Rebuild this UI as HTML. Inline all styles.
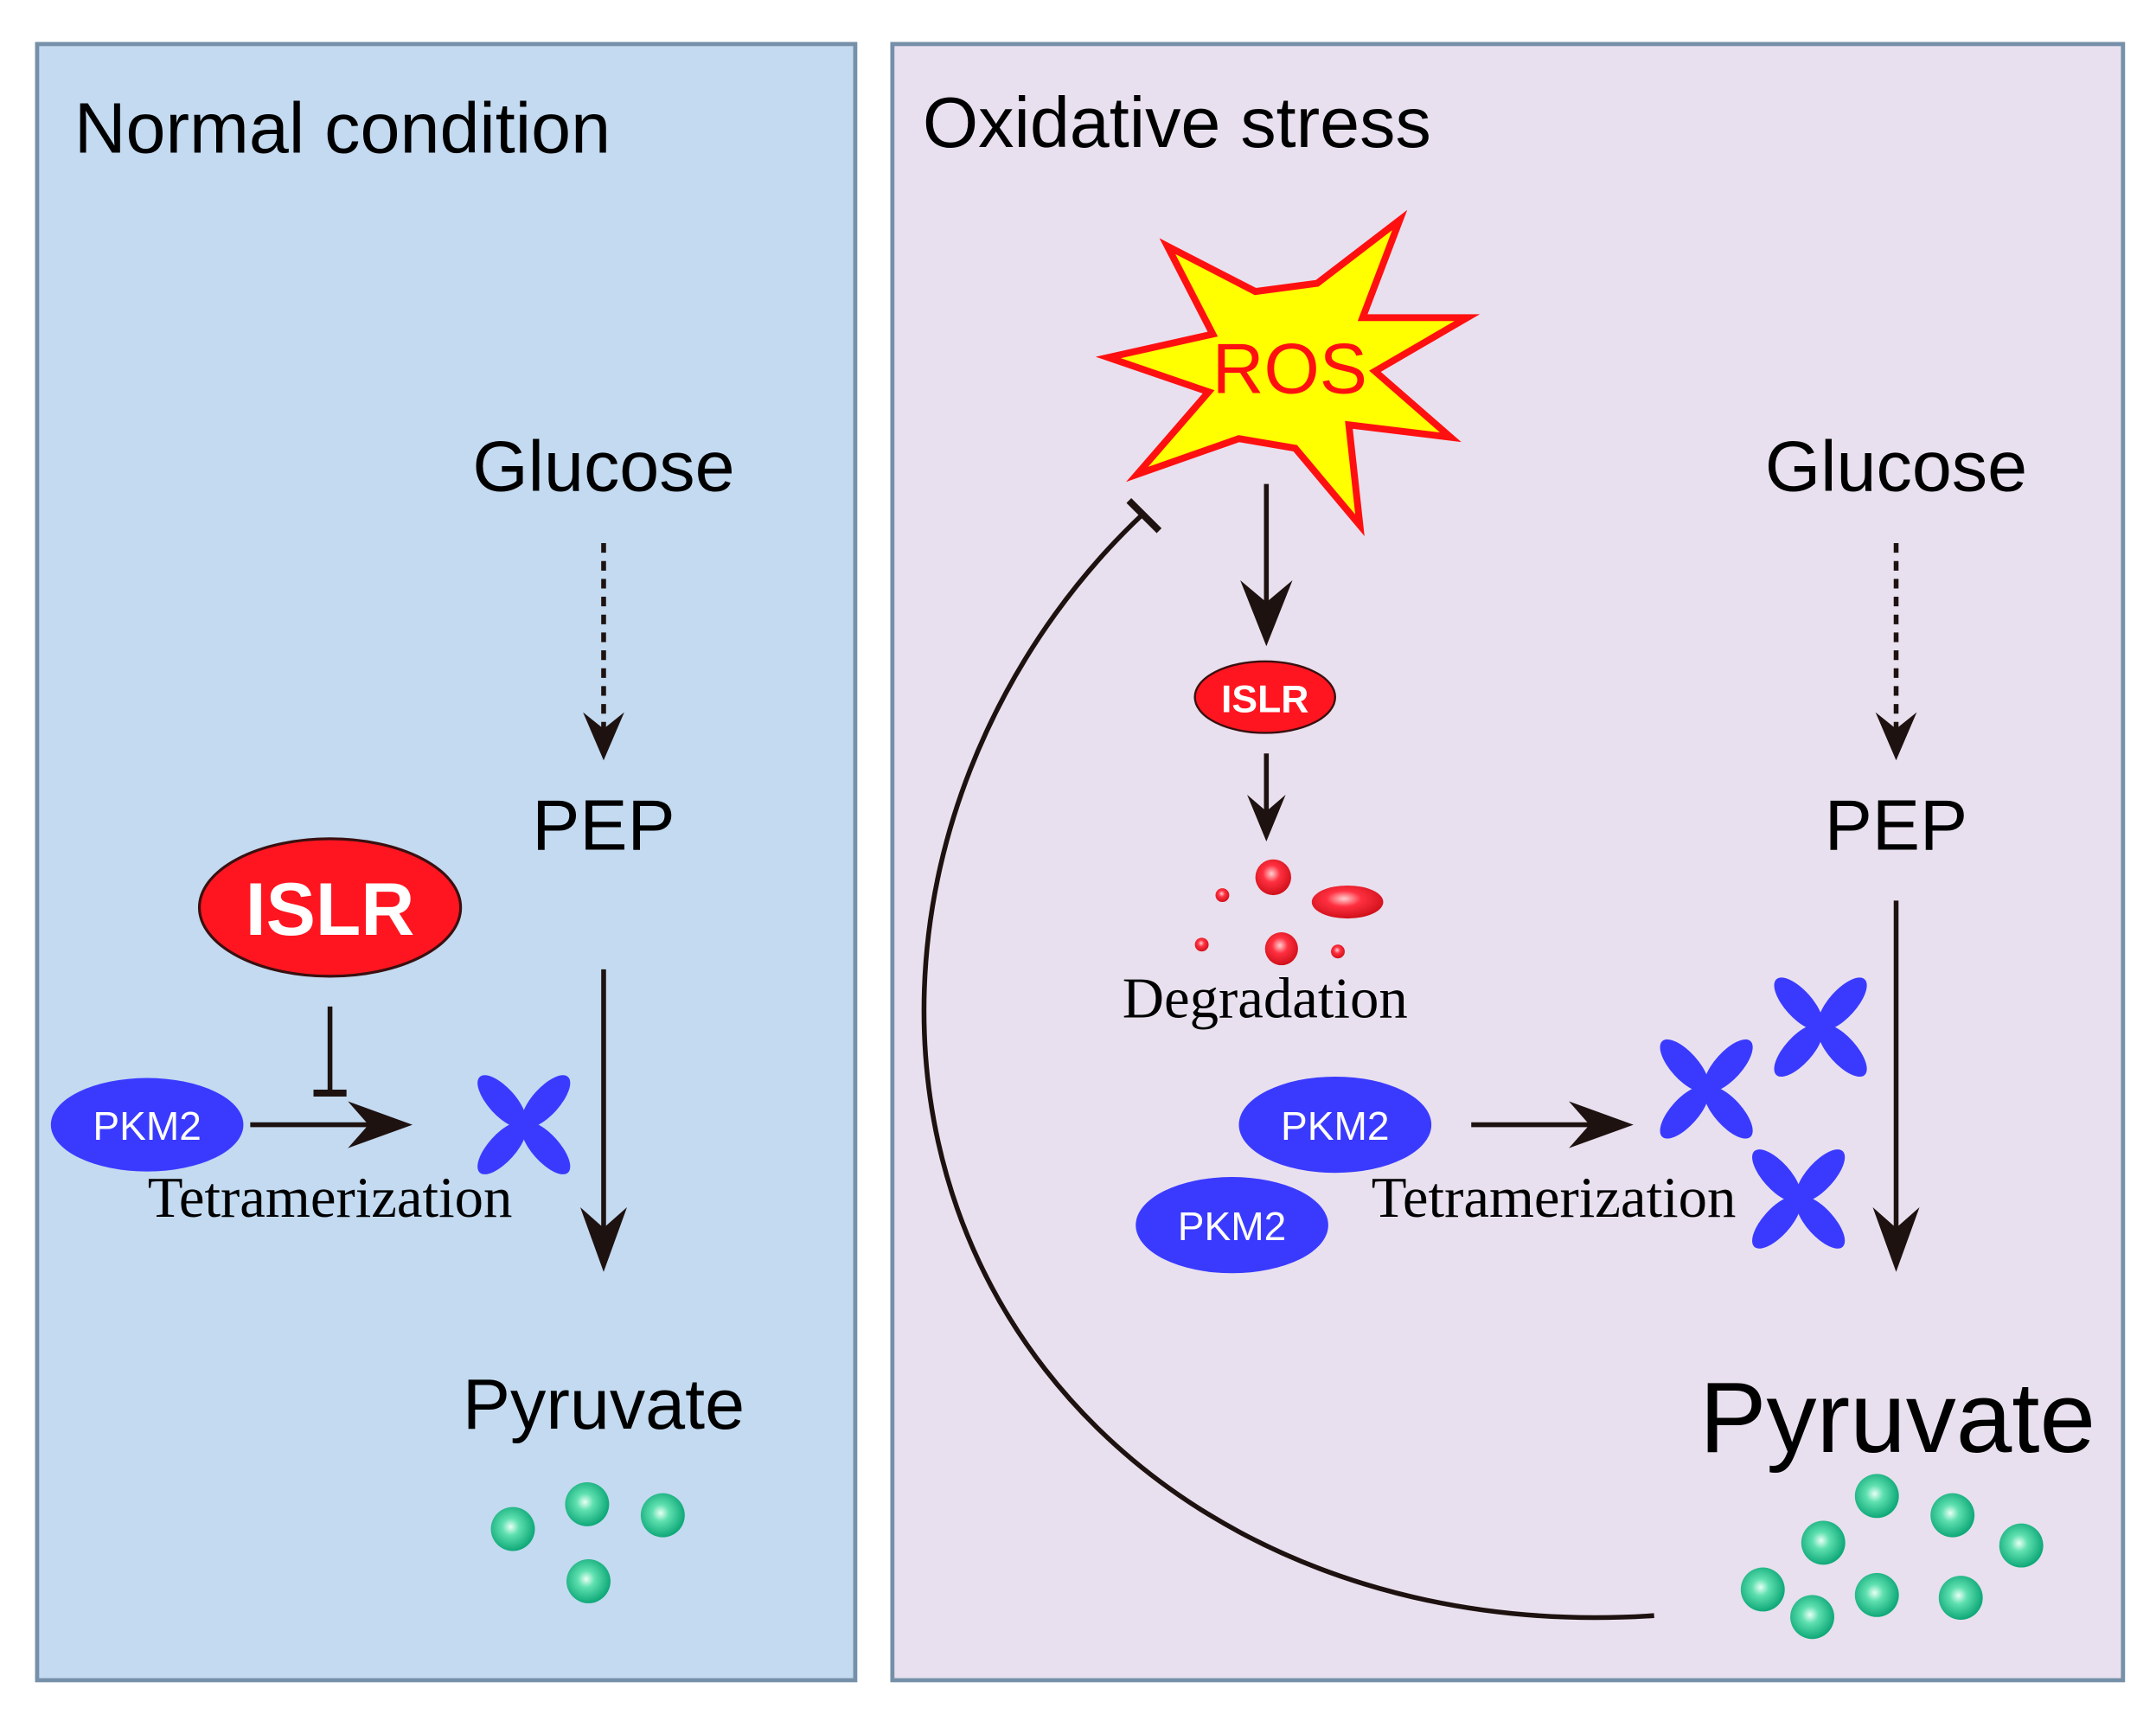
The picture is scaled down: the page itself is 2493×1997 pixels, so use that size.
<!DOCTYPE html>
<html><head><meta charset="utf-8"><style>html,body{margin:0;padding:0;background:#fff}svg{display:block}</style></head>
<body>
<svg width="2493" height="1997" viewBox="0 0 1568 1256" xmlns="http://www.w3.org/2000/svg">
<defs>
<radialGradient id="g" cx="0.45" cy="0.45" r="0.55"><stop offset="0" stop-color="#e8fff5"/><stop offset="0.35" stop-color="#5fe0b0"/><stop offset="1" stop-color="#0fa878"/></radialGradient>
<radialGradient id="r" cx="0.45" cy="0.4" r="0.6"><stop offset="0" stop-color="#ffd0d0"/><stop offset="0.4" stop-color="#ff3040"/><stop offset="1" stop-color="#d0101a"/></radialGradient>
<g id="tet" fill="#3a3aff">
<ellipse cx="-16" cy="-17" rx="10" ry="24" transform="rotate(-42 -16 -17)"/>
<ellipse cx="16" cy="-17" rx="10" ry="24" transform="rotate(42 16 -17)"/>
<ellipse cx="-16" cy="17" rx="10" ry="24" transform="rotate(42 -16 17)"/>
<ellipse cx="16" cy="17" rx="10" ry="24" transform="rotate(-42 16 17)"/>
</g>
</defs>
<rect x="0" y="0" width="1568" height="1256" fill="#fff"/>
<rect x="27" y="32" width="595" height="1190" fill="#c3daf0" stroke="#7590a8" stroke-width="3"/>
<rect x="649" y="32" width="895" height="1190" fill="#e8e0ee" stroke="#7590a8" stroke-width="3"/>
<g font-family="Liberation Sans, sans-serif" fill="#000">
<text x="54" y="111" font-size="52">Normal condition</text>
<text x="671" y="107" font-size="52">Oxidative stress</text>
<text x="439" y="357" font-size="52" text-anchor="middle">Glucose</text>
<text x="439" y="618" font-size="52" text-anchor="middle">PEP</text>
<text x="439" y="1039" font-size="52" text-anchor="middle">Pyruvate</text>
<text x="1379" y="357" font-size="52" text-anchor="middle">Glucose</text>
<text x="1379" y="618" font-size="52" text-anchor="middle">PEP</text>
<text x="1380" y="1056" font-size="73" text-anchor="middle">Pyruvate</text>
</g>
<g stroke="#1e1210" stroke-width="3.5" fill="none">
<line x1="439" y1="395" x2="439" y2="535" stroke-dasharray="7,6"/>
<line x1="1379" y1="395" x2="1379" y2="535" stroke-dasharray="7,6"/>
<line x1="439" y1="705" x2="439" y2="905"/>
<line x1="1379" y1="655" x2="1379" y2="905"/>
<line x1="240" y1="732" x2="240" y2="795"/>
<line x1="228" y1="795" x2="252" y2="795" stroke-width="5"/>
<line x1="182" y1="818" x2="282" y2="818"/>
<line x1="921" y1="352" x2="921" y2="455"/>
<line x1="921" y1="548" x2="921" y2="600"/>
<line x1="1070" y1="818" x2="1170" y2="818"/>
<path d="M1203,1175 C900,1195 672,1000 672,735 C672,590 740,460 830,375"/>
<line x1="821" y1="364" x2="843" y2="386" stroke-width="5"/>
</g>
<g fill="#1e1210">
<path d="M439,553 L424,518 L439,530 L454,518Z"/>
<path d="M1379,553 L1364,518 L1379,530 L1394,518Z"/>
<path d="M439,925 L422,878 L439,893 L456,878Z"/>
<path d="M1379,925 L1362,878 L1379,893 L1396,878Z"/>
<path d="M300,818 L253,801 L268,818 L253,835Z"/>
<path d="M1188,818 L1141,801 L1156,818 L1141,835Z"/>
<path d="M921,470 L902,422 L921,438 L940,422Z"/>
<path d="M921,612 L907,578 L921,590 L935,578Z"/>
</g>
<ellipse cx="240" cy="660" rx="95" ry="50" fill="#ff1520" stroke="#3a1010" stroke-width="2"/>
<text x="240" y="680" font-family="Liberation Sans, sans-serif" font-weight="bold" font-size="54" fill="#fff" text-anchor="middle">ISLR</text>
<ellipse cx="107" cy="818" rx="70" ry="34" fill="#3a3aff"/>
<text x="107" y="829" font-family="Liberation Sans, sans-serif" font-size="29" fill="#fff" text-anchor="middle">PKM2</text>
<use href="#tet" x="381" y="818"/>
<text x="240" y="885" font-family="Liberation Serif, serif" font-size="42" text-anchor="middle">Tetramerization</text>
<g fill="url(#g)">
<circle cx="373" cy="1112" r="16"/><circle cx="427" cy="1094" r="16"/><circle cx="482" cy="1102" r="16"/><circle cx="428" cy="1150" r="16"/>
<circle cx="1365" cy="1088" r="16"/><circle cx="1420" cy="1102" r="16"/><circle cx="1326" cy="1122" r="16"/><circle cx="1470" cy="1124" r="16"/><circle cx="1282" cy="1156" r="16"/><circle cx="1365" cy="1160" r="16"/><circle cx="1426" cy="1162" r="16"/><circle cx="1318" cy="1176" r="16"/>
</g>
<polygon points="849,179 913,212 958,206 1018,160 991,231 1067,231 1000,270 1055,318 981,309 989,382 942,326 901,319 827,345 879,285 806,260 882,243" fill="#ffff00" stroke="#ff1010" stroke-width="5" stroke-linejoin="miter"/>
<text x="938" y="286" font-family="Liberation Sans, sans-serif" font-size="52" fill="#ff1010" text-anchor="middle">ROS</text>
<ellipse cx="920" cy="507" rx="51" ry="26" fill="#ff1520" stroke="#3a1010" stroke-width="1.5"/>
<text x="920" y="518" font-family="Liberation Sans, sans-serif" font-weight="bold" font-size="28" fill="#fff" text-anchor="middle">ISLR</text>
<g fill="url(#r)">
<circle cx="926" cy="638" r="13"/><ellipse cx="980" cy="656" rx="26" ry="12"/><circle cx="889" cy="651" r="5"/><circle cx="874" cy="687" r="5"/><circle cx="932" cy="690" r="12"/><circle cx="973" cy="692" r="5"/>
</g>
<text x="920" y="740" font-family="Liberation Serif, serif" font-size="42" text-anchor="middle">Degradation</text>
<ellipse cx="971" cy="818" rx="70" ry="35" fill="#3a3aff"/>
<text x="971" y="829" font-family="Liberation Sans, sans-serif" font-size="29" fill="#fff" text-anchor="middle">PKM2</text>
<ellipse cx="896" cy="891" rx="70" ry="35" fill="#3a3aff"/>
<text x="896" y="902" font-family="Liberation Sans, sans-serif" font-size="29" fill="#fff" text-anchor="middle">PKM2</text>
<text x="1130" y="885" font-family="Liberation Serif, serif" font-size="42" text-anchor="middle">Tetramerization</text>
<use href="#tet" x="1241" y="792"/>
<use href="#tet" x="1324" y="747"/>
<use href="#tet" x="1308" y="872"/>
</svg>
</body></html>
